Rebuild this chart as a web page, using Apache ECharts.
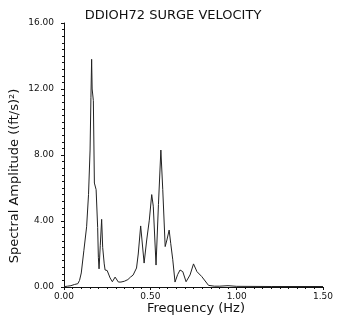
<!DOCTYPE html>
<html>
<head>
<meta charset="utf-8">
<script src="https://cdn.jsdelivr.net/npm/echarts@6/dist/echarts.min.js"></script>
<style>html,body{margin:0;padding:0;background:#fff}#c{width:338px;height:322px}</style>
</head>
<body>
<div id="c"></div>
<script>
var titleText = "DDIOH72 SURGE VELOCITY";
var xName = "Frequency (Hz)";
var yName = "Spectral Amplitude ((ft/s)\u00B2)";
var xTicks = [0, 0.5, 1.0, 1.5];
var yTicks = [0, 4, 8, 12, 16];
var freq = [0, 0.02, 0.04, 0.06, 0.07, 0.08, 0.09, 0.10, 0.115, 0.131, 0.142, 0.151, 0.156, 0.16, 0.163, 0.17, 0.176, 0.186, 0.195, 0.199, 0.203, 0.21, 0.218, 0.224, 0.233, 0.238, 0.25, 0.257, 0.267, 0.28, 0.296, 0.315, 0.33, 0.35, 0.37, 0.385, 0.4, 0.41, 0.42, 0.43, 0.444, 0.464, 0.479, 0.494, 0.508, 0.517, 0.533, 0.547, 0.561, 0.572, 0.586, 0.596, 0.609, 0.618, 0.63, 0.643, 0.658, 0.672, 0.688, 0.707, 0.73, 0.75, 0.77, 0.798, 0.837, 0.87, 0.9, 0.95, 1.0, 1.2, 1.5];
var amp  = [0.02, 0.05, 0.08, 0.15, 0.1, 0.2, 0.4, 0.85, 2.2, 3.65, 5.6, 8.3, 11.5, 13.8, 12.0, 11.3, 6.3, 5.9, 3.6, 1.8, 1.1, 2.5, 4.1, 2.4, 1.4, 1.03, 1.0, 1.0, 0.55, 0.32, 0.6, 0.3, 0.3, 0.35, 0.45, 0.6, 0.72, 0.75, 1.15, 2.0, 3.7, 1.45, 2.85, 4.05, 5.6, 4.9, 1.33, 5.0, 8.3, 5.9, 2.45, 2.85, 3.45, 2.65, 1.65, 0.3, 0.75, 1.03, 0.93, 0.32, 0.73, 1.4, 0.93, 0.63, 0.1, 0.05, 0.05, 0.08, 0.04, 0.03, 0.03];

var data = freq.map(function (f, i) { return [f, amp[i]]; });
var ink = '#111';
var chart = echarts.init(document.getElementById('c'));
chart.setOption({
  backgroundColor: '#fff',
  animation: false,
  title: {
    text: titleText, left: 168, top: 4, textAlign: 'center',
    textStyle: { fontFamily: 'DejaVu Sans', fontWeight: 'normal', fontSize: 13, color: ink }
  },
  grid: { left: 64, right: 15, top: 23, bottom: 35, containLabel: false },
  xAxis: {
    type: 'value', min: xTicks[0], max: xTicks[xTicks.length - 1], interval: 0.5,
    axisLine: { lineStyle: { color: ink, width: 1 } },
    axisTick: { inside: false, length: 3, lineStyle: { color: ink } },
    minorTick: { show: true, splitNumber: 10, length: 2, lineStyle: { color: ink } },
    axisLabel: { margin: 5, fontFamily: 'DejaVu Sans', fontSize: 9, color: ink,
      formatter: function (v) { return v.toFixed(2); } },
    splitLine: { show: false }
  },
  yAxis: {
    type: 'value', min: yTicks[0], max: yTicks[yTicks.length - 1], interval: 4,
    axisLine: { show: true, lineStyle: { color: ink, width: 1 } },
    axisTick: { show: true, length: 3, lineStyle: { color: ink } },
    minorTick: { show: true, splitNumber: 10, length: 2, lineStyle: { color: ink } },
    axisLabel: { margin: 10, fontFamily: 'DejaVu Sans', fontSize: 9, color: ink,
      formatter: function (v) { return v.toFixed(2); } },
    splitLine: { show: false }
  },
  graphic: [{
    type: 'text', x: 15, y: 176, rotation: Math.PI / 2,
    style: { text: yName, fill: ink, font: '13px "DejaVu Sans"', align: 'center', verticalAlign: 'middle' }
  }, {
    type: 'text', x: 196, y: 309,
    style: { text: xName, fill: ink, font: '13px "DejaVu Sans"', align: 'center', verticalAlign: 'middle' }
  }],
  series: [{
    type: 'line', data: data, showSymbol: false, smooth: false,
    lineStyle: { color: '#222', width: 1 }
  }]
});
</script>
</body>
</html>
